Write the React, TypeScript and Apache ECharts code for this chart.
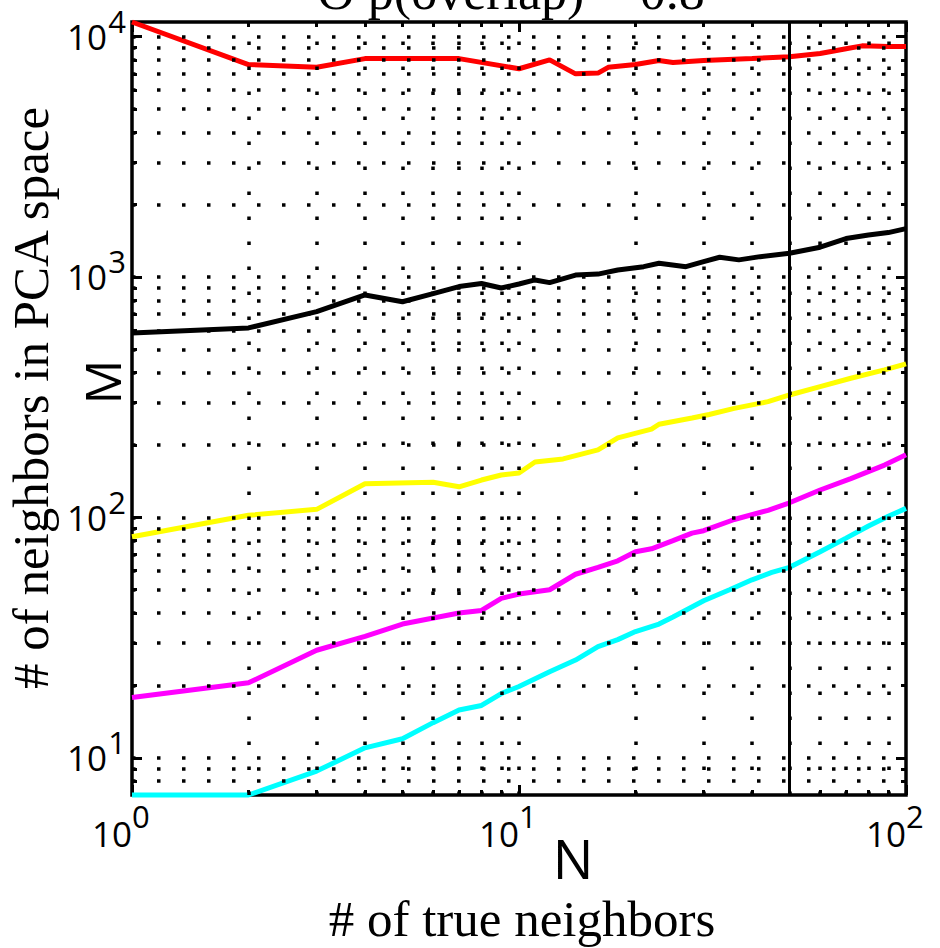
import React, { useEffect, useRef } from "react";
import * as echarts from "echarts";

// ---- axis ranges and ticks ----
const X_MIN = 1;
const X_MAX = 100;
const Y_MIN = 7;
const Y_MAX = 11500;
const xMajorTicks = [1, 10, 100];
const xMinorTicks = [2, 3, 4, 5, 6, 7, 8, 9, 20, 30, 40, 50, 60, 70, 80, 90];
const yMajorTicks = [10, 100, 1000, 10000];
const yMinorTicks = [
  8, 9, 20, 30, 40, 50, 60, 70, 80, 90, 200, 300, 400, 500, 600, 700, 800, 900,
  2000, 3000, 4000, 5000, 6000, 7000, 8000, 9000,
];
const markerN = 50;

// ---- texts ----
const titleText = "O p(overlap) = 0.8";
const xTitle = "# of true neighbors";
const yTitle = "# of neighbors in PCA space";
const xSymbol = "N";
const ySymbol = "M";

// ---- series (N = # of true neighbors, M = # of neighbors in PCA space) ----
const redN = [1, 2, 3, 4, 7, 10, 12, 14, 16, 17, 20, 23, 25, 30, 40, 50, 60, 70, 77, 90, 100];
const redM = [11500, 7650, 7450, 8100, 8100, 7350, 8000, 7000, 7050, 7450, 7650, 7950, 7800, 7950, 8100, 8250, 8500, 8900, 9150, 9100, 9100];

const blackN = [1, 2, 3, 4, 5, 6, 7, 8, 9, 10, 11, 12, 14, 16, 18, 21, 23, 27, 30, 33, 37, 42, 50, 60, 70, 80, 90, 100];
const blackM = [585, 614, 718, 842, 789, 853, 912, 939, 900, 935, 972, 947, 1018, 1028, 1069, 1104, 1140, 1104, 1159, 1208, 1178, 1215, 1255, 1330, 1445, 1495, 1530, 1590];

const yellowN = [1, 2, 3, 4, 6, 7, 8, 9, 10, 11, 13, 16, 18, 22, 23, 28, 31, 36, 44, 50, 60, 72, 88, 100];
const yellowM = [83, 102, 108, 138, 140, 134, 143, 150, 153, 170, 175, 191, 214, 233, 244, 259, 268, 284, 303, 323, 350, 379, 411, 435];

const magentaN = [1, 2, 3, 4, 5, 7, 8, 9, 10, 12, 14, 16, 18, 20, 22, 25, 28, 30, 36, 44, 50, 60, 72, 88, 100];
const magentaM = [17.8, 20.5, 28, 32, 36, 40, 41, 46, 48, 50, 58, 62, 66, 72, 74, 80, 86, 88, 98, 107, 115, 130, 145, 165, 182];

const cyanN = [1, 2, 3, 4, 5, 6, 7, 8, 9, 10, 12, 14, 16, 18, 20, 23, 25, 30, 35, 40, 45, 50, 60, 70, 80, 90, 100];
const cyanM = [7, 7, 8.8, 11, 12, 14, 15.8, 16.5, 18.5, 19.8, 22.8, 25.5, 29, 31, 33.5, 36, 38.5, 45, 50, 55, 59, 62, 72, 82, 92, 101, 109];

const seriesDefs = [
  { name: "red", color: "#ff0000", n: redN, m: redM },
  { name: "black", color: "#000000", n: blackN, m: blackM },
  { name: "yellow", color: "#ffff00", n: yellowN, m: yellowM },
  { name: "magenta", color: "#ff00ff", n: magentaN, m: magentaM },
  { name: "cyan", color: "#00ffff", n: cyanN, m: cyanM },
];

const SANS = '"Open Sans", "DejaVu Sans", sans-serif';
const SERIF = '"Liberation Serif", "DejaVu Serif", serif';

function isPow10(v: number): boolean {
  const e = Math.round(Math.log10(v));
  return Math.abs(Math.pow(10, e) - v) <= 1e-6 * v;
}
const baseLabel = (v: number) => (isPow10(v) ? "10" : "");
const expLabel = (v: number) => (isPow10(v) ? String(Math.round(Math.log10(v))) : "");

function makeAxis(
  kind: "x" | "y",
  position: string,
  major: boolean,
  label: any
) {
  const ticks = kind === "x" ? (major ? xMajorTicks : xMinorTicks) : major ? yMajorTicks : yMinorTicks;
  return {
    type: "log",
    logBase: 10,
    min: kind === "x" ? X_MIN : Y_MIN,
    max: kind === "x" ? X_MAX : Y_MAX,
    position,
    gridIndex: 0,
    axisLine: { show: false },
    axisTick: {
      show: true,
      inside: true,
      length: major ? 10 : 5,
      customValues: ticks,
      lineStyle: { color: "#000", width: 3 },
    },
    axisLabel: label
      ? {
          show: true,
          customValues: kind === "x" ? xMajorTicks : yMajorTicks,
          color: "#000",
          fontFamily: SANS,
          ...label,
        }
      : { show: false },
    splitLine: { show: false },
    minorTick: { show: false },
    minorSplitLine: { show: false },
  };
}

export default function App() {
  const ref = useRef<HTMLDivElement>(null);

  useEffect(() => {
    if (!ref.current) return;
    const chart = echarts.init(ref.current, undefined, { renderer: "svg" });

    const dotted = { type: [3.5, 21.5], width: 3.5, color: "#000", cap: "butt" };
    const gridLineData = [
      ...[...xMinorTicks, 10].map((v) => ({ xAxis: v, lineStyle: dotted })),
      ...[...yMinorTicks, ...yMajorTicks].map((v) => ({ yAxis: v, lineStyle: dotted })),
    ];

    const option: any = {
      animation: false,
      backgroundColor: "#ffffff",
      grid: {
        left: 132,
        right: 34,
        top: 22,
        bottom: 153,
        show: true,
        borderColor: "#000",
        borderWidth: 3.5,
        backgroundColor: "transparent",
        containLabel: false,
      },
      xAxis: [
        makeAxis("x", "bottom", true, {
          formatter: baseLabel,
          fontSize: 35,
          align: "right",
          verticalAlign: "top",
          lineHeight: 35,
          margin: 21,
        }),
        makeAxis("x", "bottom", false, {
          formatter: expLabel,
          fontSize: 31,
          align: "left",
          verticalAlign: "top",
          lineHeight: 31,
          margin: 5,
        }),
        makeAxis("x", "top", true, null),
        makeAxis("x", "top", false, null),
      ],
      yAxis: [
        makeAxis("y", "left", true, {
          formatter: baseLabel,
          fontSize: 35,
          align: "right",
          verticalAlign: "middle",
          lineHeight: 35,
          margin: 25,
        }),
        makeAxis("y", "left", false, {
          formatter: expLabel,
          fontSize: 31,
          align: "right",
          verticalAlign: "bottom",
          lineHeight: 31,
          margin: 6,
        }),
        makeAxis("y", "right", true, null),
        makeAxis("y", "right", false, null),
      ],
      series: [
        {
          name: "grid",
          type: "line",
          data: [],
          z: 1,
          silent: true,
          markLine: {
            silent: true,
            symbol: ["none", "none"],
            label: { show: false },
            emphasis: { disabled: true },
            animation: false,
            data: gridLineData,
          },
        },
        ...seriesDefs.map((s) => ({
          name: s.name,
          type: "line",
          data: s.n.map((n, i) => [n, s.m[i]]),
          showSymbol: false,
          symbol: "none",
          clip: false,
          z: 3,
          lineStyle: { color: s.color, width: 5 },
          itemStyle: { color: s.color },
          emphasis: { disabled: true },
          silent: true,
        })),
        {
          name: "marker",
          type: "line",
          data: [],
          z: 5,
          silent: true,
          markLine: {
            silent: true,
            symbol: ["none", "none"],
            label: { show: false },
            emphasis: { disabled: true },
            animation: false,
            data: [{ xAxis: markerN, lineStyle: { type: "solid", width: 3, color: "#000" } }],
          },
        },
      ],
      graphic: [
        {
          type: "text",
          x: 511,
          y: -9,
          style: {
            text: titleText,
            font: `52px ${SERIF}`,
            fill: "#000",
            align: "center",
            verticalAlign: "middle",
            textAlign: "center",
            textVerticalAlign: "middle",
          },
        },
        {
          type: "text",
          x: 522,
          y: 919,
          style: {
            text: xTitle,
            font: `51px ${SERIF}`,
            fill: "#000",
            align: "center",
            verticalAlign: "middle",
            textAlign: "center",
            textVerticalAlign: "middle",
          },
        },
        {
          type: "text",
          x: 31,
          y: 398,
          rotation: Math.PI / 2,
          style: {
            text: yTitle,
            font: `51px ${SERIF}`,
            fill: "#000",
            align: "center",
            verticalAlign: "middle",
            textAlign: "center",
            textVerticalAlign: "middle",
          },
        },
        {
          type: "text",
          x: 573,
          y: 858,
          style: {
            text: xSymbol,
            font: `54px ${SANS}`,
            fill: "#000",
            align: "center",
            verticalAlign: "middle",
            textAlign: "center",
            textVerticalAlign: "middle",
          },
        },
        {
          type: "text",
          x: 102,
          y: 382,
          rotation: Math.PI / 2,
          style: {
            text: ySymbol,
            font: `50px ${SANS}`,
            fill: "#000",
            align: "center",
            verticalAlign: "middle",
            textAlign: "center",
            textVerticalAlign: "middle",
          },
        },
      ],
    };

    chart.setOption(option);
    return () => {
      chart.dispose();
    };
  }, []);

  return (
    <div
      ref={ref}
      style={{ width: 940, height: 948, position: "absolute", left: 0, top: 0, background: "#fff" }}
    />
  );
}
